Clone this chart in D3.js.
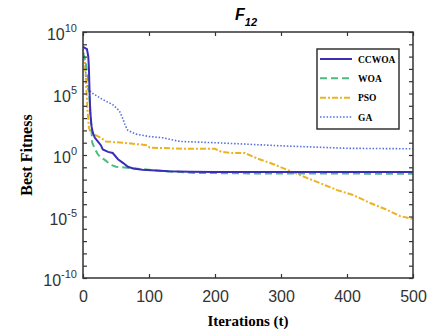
<!DOCTYPE html>
<html><head><meta charset="utf-8">
<script src="https://cdn.jsdelivr.net/npm/d3@7"></script>
<style>html,body{margin:0;padding:0;background:#fff;}</style>
</head><body><svg id="c" width="440" height="332"></svg>
<script>
const seriesNames = ["CCWOA", "WOA", "PSO", "GA"];
const ccwoaIter = [0,6,8,9,10,11,13,15,18,23,27,30,38,45,53,61,68,76,90,110,130,160,200,500];
const ccwoaVal  = [6.3e8,4.0e8,1e8,1e7,1e5,3.2e3,200,63,25,11.5,6.3,2.8,1.8,1.45,0.45,0.22,0.11,0.079,0.063,0.054,0.048,0.044,0.042,0.042];
const woaIter = [0,4,8,10,12,14,18,22,26,33,42,50,70,100,120,170,250,500];
const woaVal  = [2e8,4e7,1e6,3.2e4,630,10,3.2,1.26,0.69,0.4,0.16,0.11,0.089,0.063,0.05,0.035,0.032,0.030];
const psoIter = [0,3,5,7,9,12,20,27,35,60,97,101,150,200,210,225,245,265,291,317,341,367,385,409,435,461,480,500];
const psoVal  = [1.6e8,3.2e7,3.2e5,3.2e3,160,63,40,25,12.6,10,6.3,4,3.2,3.2,1.8,1.45,1.45,0.5,0.16,0.042,0.0126,3.5e-3,1.4e-3,5.6e-4,1.26e-4,3.4e-5,1.1e-5,6.3e-6];
const gaIter = [0,3,5,7,15,30,45,55,60,64,68,80,100,121,147,200,300,400,500];
const gaVal  = [4e8,3.2e7,1e6,2.5e5,1e5,3.2e4,1.26e4,4e3,1e3,250,100,50,32,25,12.6,10,5.6,3.5,3.2];
const xTicks = [0,100,200,300,400,500];
const yMajorExp = [-10,-5,0,5,10];
const yMinorExp = d3.range(-10,11);

const svg = d3.select("#c");
const L = 83, R = 413, T = 32, B = 278;
const x = d3.scaleLinear().domain([0,500]).range([L,R]);
const y = d3.scaleLog().domain([1e-10,1e10]).range([B,T]);

const styles = [
  {color:"#3b2db4", dash:null, w:2},
  {color:"#4dbb80", dash:"7,4", w:2},
  {color:"#ebb321", dash:"6,2,2,2", w:2},
  {color:"#5470de", dash:"1.5,1.8", w:1.6}
];
const data = [
  d3.zip(ccwoaIter, ccwoaVal),
  d3.zip(woaIter, woaVal),
  d3.zip(psoIter, psoVal),
  d3.zip(gaIter, gaVal)
];

const g = svg.append("g");
g.append("defs").append("clipPath").attr("id","clip").append("rect")
  .attr("x",L).attr("y",T).attr("width",R-L).attr("height",B-T);

const line = d3.line().x(d=>x(d[0])).y(d=>y(d[1]));
// draw order: GA, PSO, WOA, CCWOA? keep CCWOA on top
[3,2,1,0].forEach(i=>{
  g.append("path").attr("d", line(data[i])).attr("fill","none")
   .attr("clip-path","url(#clip)")
   .attr("stroke", styles[i].color).attr("stroke-width", styles[i].w)
   .attr("stroke-dasharray", styles[i].dash);
});

// axes box
const axCol = "#333";
g.append("rect").attr("x",L).attr("y",T).attr("width",R-L).attr("height",B-T)
 .attr("fill","none").attr("stroke",axCol).attr("stroke-width",1.5);

// x ticks (inward, bottom and top)
const xAxB = d3.axisBottom(x).tickValues(xTicks).tickSizeInner(-4).tickSizeOuter(0).tickPadding(9);
const gxb = g.append("g").attr("transform",`translate(0,${B})`).call(xAxB);
gxb.select(".domain").remove();
gxb.selectAll("line").attr("stroke",axCol).attr("stroke-width",1.2);
gxb.selectAll("text").attr("font-family","Liberation Sans, Arial, sans-serif").attr("font-size",16).attr("fill","#333")
   .attr("dy","0.95em");
const xAxT = d3.axisTop(x).tickValues(xTicks).tickSizeInner(-4).tickSizeOuter(0).tickFormat("");
const gxt = g.append("g").attr("transform",`translate(0,${T})`).call(xAxT);
gxt.select(".domain").remove();
gxt.selectAll("line").attr("stroke",axCol).attr("stroke-width",1.2);

// y ticks (every decade, inward, left and right)
const yAxL = d3.axisLeft(y).tickValues(yMinorExp.map(e=>Math.pow(10,e))).tickSizeInner(-4).tickSizeOuter(0).tickFormat("");
const gyl = g.append("g").attr("transform",`translate(${L},0)`).call(yAxL);
gyl.select(".domain").remove();
gyl.selectAll("line").attr("stroke",axCol).attr("stroke-width",1.2);
const yAxR = d3.axisRight(y).tickValues(yMinorExp.map(e=>Math.pow(10,e))).tickSizeInner(-4).tickSizeOuter(0).tickFormat("");
const gyr = g.append("g").attr("transform",`translate(${R},0)`).call(yAxR);
gyr.select(".domain").remove();
gyr.selectAll("line").attr("stroke",axCol).attr("stroke-width",1.2);

// y tick labels 10^n
yMajorExp.forEach(e=>{
  const t = g.append("text").attr("x", L-6).attr("y", y(Math.pow(10,e))+8)
    .attr("text-anchor","end").attr("font-family","Liberation Sans, Arial, sans-serif")
    .attr("font-size",16).attr("fill","#333");
  t.append("tspan").text("10");
  t.append("tspan").attr("font-size",11).attr("dy",-8).text(String(e).replace("-","-"));
});

// title
const title = g.append("text").attr("x",235).attr("y",20).attr("font-family","Liberation Sans, Arial, sans-serif")
  .attr("font-weight","bold").attr("font-style","italic").attr("font-size",16).attr("fill","#000");
title.append("tspan").text("F");
title.append("tspan").attr("font-size",11).attr("dy",6).text("12");

// axis labels
g.append("text").attr("x",(L+R)/2).attr("y",326).attr("text-anchor","middle")
  .attr("font-family","Liberation Serif, Times New Roman, serif").attr("font-weight","bold")
  .attr("font-size",15).attr("fill","#000").text("Iterations (t)");
g.append("text").attr("transform",`translate(32,${(T+B)/2}) rotate(-90)`).attr("text-anchor","middle")
  .attr("font-family","Liberation Serif, Times New Roman, serif").attr("font-weight","bold")
  .attr("font-size",16).attr("fill","#000").text("Best Fitness");

// legend
const lg = g.append("g");
lg.append("rect").attr("x",317).attr("y",49).attr("width",82).attr("height",80)
  .attr("fill","#fff").attr("stroke",axCol).attr("stroke-width",1.5);
const rowY = d3.scalePoint().domain(seriesNames).range([59,117]);
seriesNames.forEach((n,i)=>{
  lg.append("line").attr("x1",320).attr("x2",352).attr("y1",rowY(n)).attr("y2",rowY(n))
    .attr("stroke",styles[i].color).attr("stroke-width",styles[i].w).attr("stroke-dasharray",styles[i].dash);
  lg.append("text").attr("x",358).attr("y",rowY(n)+3.5)
    .attr("font-family","Liberation Serif, Times New Roman, serif").attr("font-weight","bold")
    .attr("font-size",9.5).attr("fill","#000").text(n);
});
</script></body></html>
